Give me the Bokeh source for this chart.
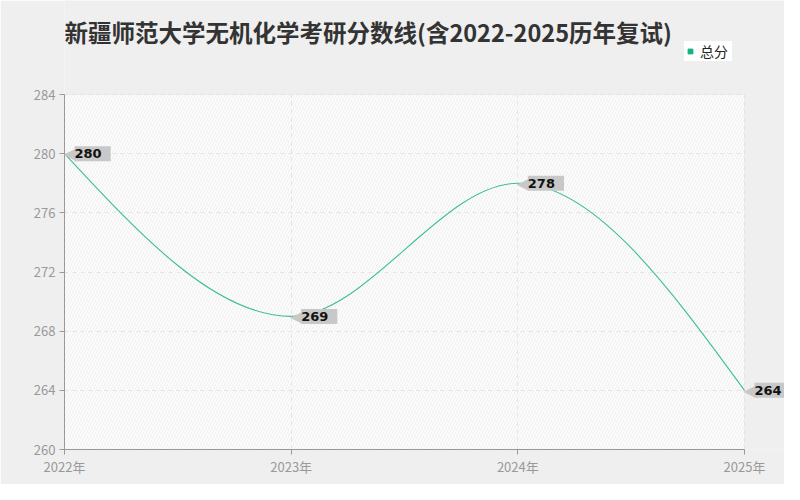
import numpy as np
from bokeh.plotting import figure
from bokeh.core.properties import value
from bokeh.models import (ColumnDataSource, Range1d, FixedTicker, LabelSet, Label,
                          BoxAnnotation, Legend, LegendItem)
from bokeh.embed import file_html
from bokeh.resources import INLINE

# data
years = [2022, 2023, 2024, 2025]
scores = [280, 269, 278, 264]
year_labels = ["2022年", "2023年", "2024年", "2025年"]
y_ticks = [260, 264, 268, 272, 276, 280, 284]
title_text = "新疆师范大学无机化学考研分数线(含2022-2025历年复试)"
series_name = "总分"

LINE_COLOR = "#3bbf93"
MARK_COLOR = "#12b07c"

# layout (pixels): plot box inside the canvas
W, H = 784, 484
BOX_L, BOX_R, BOX_T, BOX_B = 64, 744, 94, 449
TITLE_Y = 31


def monotone_tangents(xs, ys):
    # monotone cubic (d3 monotoneX style) tangents
    xs = np.asarray(xs, dtype=float)
    ys = np.asarray(ys, dtype=float)
    h = np.diff(xs)
    s = np.diff(ys) / h
    t = np.zeros(len(xs))
    for i in range(1, len(xs) - 1):
        p = (s[i - 1] * h[i] + s[i] * h[i - 1]) / (h[i - 1] + h[i])
        t[i] = (np.sign(s[i - 1]) + np.sign(s[i])) * min(abs(s[i - 1]), abs(s[i]), 0.5 * abs(p))
    t[0] = (3 * s[0] - t[1]) / 2
    t[-1] = (3 * s[-1] - t[-2]) / 2
    return t


xs = np.asarray(years, dtype=float)
ys = np.asarray(scores, dtype=float)
tan = monotone_tangents(xs, ys)
h = np.diff(xs)
curve = ColumnDataSource(dict(
    x0=xs[:-1], y0=ys[:-1], x1=xs[1:], y1=ys[1:],
    cx0=xs[:-1] + h / 3, cy0=ys[:-1] + tan[:-1] * h / 3,
    cx1=xs[1:] - h / 3, cy1=ys[1:] - tan[1:] * h / 3,
))

# frame spans the canvas top/right so labels, title and legend are not clipped
x0, x1 = years[0], years[-1]
y0, y1 = y_ticks[0], y_ticks[-1]
px_x = (BOX_R - BOX_L) / (x1 - x0)
px_y = (BOX_B - BOX_T) / (y1 - y0)
x_end = x1 + (W - BOX_R) / px_x
y_end = y1 + BOX_T / px_y

p = figure(width=W, height=H, output_backend="svg", toolbar_location=None,
           x_range=Range1d(x0, x_end), y_range=Range1d(y0, y_end),
           min_border_left=BOX_L, min_border_right=0, min_border_top=0,
           min_border_bottom=H - BOX_B)
p.border_fill_color = "#efefef"
p.background_fill_color = "#efefef"
p.outline_line_color = None

p.add_layout(Label(x=x0, y=y1 + (BOX_T - TITLE_Y) / px_y, text=title_text,
                   text_font="Noto Sans CJK SC", text_font_size="23.5px",
                   text_font_style="bold", text_color="#333333",
                   text_baseline="middle", text_align="left"))

# white hatched plot box
p.add_layout(BoxAnnotation(left=x0, right=x1, bottom=y0, top=y1,
                           fill_color="#fcfcfc", fill_alpha=1,
                           line_color="#e2e2e2", line_width=1,
                           hatch_pattern="/", hatch_color="#efefef", hatch_scale=6,
                           hatch_weight=1, level="image"))

p.xaxis.ticker = FixedTicker(ticks=years)
p.xaxis.major_label_overrides = {yr: lab for yr, lab in zip(years, year_labels)}
p.xaxis.bounds = (x0, x1)
p.yaxis.ticker = FixedTicker(ticks=y_ticks)
p.yaxis.bounds = (y0, y1)
for ax in (p.xaxis, p.yaxis):
    ax.axis_line_color = "#999999"
    ax.major_tick_line_color = "#999999"
    ax.major_tick_out = 5
    ax.major_tick_in = 0
    ax.minor_tick_line_color = None
    ax.major_label_text_color = "#999999"
    ax.major_label_text_font = "Noto Sans CJK SC"
    ax.major_label_text_font_size = "13px"
p.xaxis.major_label_standoff = 2
p.yaxis.major_label_standoff = 4

p.xgrid.cross_bounds = (y0, y1)
p.ygrid.cross_bounds = (x0, x1)
p.grid.grid_line_color = "#e4e4e4"
p.grid.grid_line_dash = "4 4"

p.bezier(x0="x0", y0="y0", x1="x1", y1="y1", cx0="cx0", cy0="cy0", cx1="cx1", cy1="cy1",
         source=curve, line_color=LINE_COLOR, line_width=1.1)

pts = ColumnDataSource(dict(x=years, y=scores,
                            label=[" %d " % v for v in scores],
                            arrow=["◀"] * len(scores)))
p.add_layout(LabelSet(x="x", y="y", text="arrow", source=pts, x_offset=-1, y_offset=0,
                      text_baseline="middle", text_align="left", text_color="#c8c8c8",
                      text_font=value("DejaVu Sans"), text_font_size="16px"))
p.add_layout(LabelSet(x="x", y="y", text="label", source=pts, x_offset=10, y_offset=0,
                      text_baseline="middle", text_align="left", text_color="#111111",
                      text_font=value("DejaVu Sans"), text_font_size="13px",
                      text_font_style="bold", background_fill_color="#c8c8c8"))

dummy_src = ColumnDataSource(dict(x=[np.nan], y=[np.nan]))
dummy = p.scatter(x="x", y="y", source=dummy_src, marker="square", size=7, color=MARK_COLOR)
legend = Legend(items=[LegendItem(label=series_name, renderers=[dummy])],
                location=(620, BOX_B - 61), orientation="horizontal")
legend.background_fill_color = "#ffffff"
legend.border_line_color = None
legend.label_text_font = "Noto Sans CJK SC"
legend.label_text_font_size = "14px"
legend.label_text_color = "#222222"
legend.glyph_width = 12
legend.glyph_height = 12
legend.label_standoff = 4
legend.label_width = 32
legend.padding = 6
legend.margin = 0
p.add_layout(legend)

open("out.html", "w").write(file_html(p, INLINE))
